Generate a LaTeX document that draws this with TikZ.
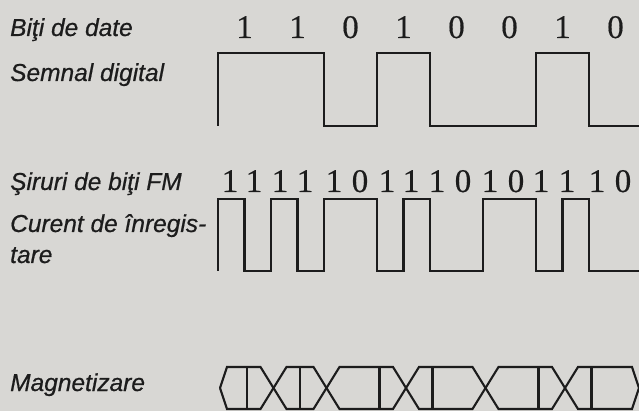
\documentclass[tikz,border=0pt]{standalone}
\usepackage{fontspec}
\setmainfont{Liberation Serif}
\setsansfont{Liberation Sans}
\newfontfamily\lblfont[ItalicFeatures={FakeBold=0.6}]{Liberation Sans}
\newfontfamily\digfont[FakeBold=0.4]{Liberation Serif}
\definecolor{paper}{RGB}{216,215,212}
\definecolor{ink}{RGB}{28,28,28}
\begin{document}
\begin{tikzpicture}[x=1pt,y=-1pt,
  wave/.style={line width=2.1pt, draw=ink, line join=miter},
  lbl/.style={anchor=base west, inner sep=0pt, font=\lblfont\itshape\fontsize{24.5}{28}\selectfont, text=ink},
  dig/.style={anchor=base, inner sep=0pt, font=\digfont\fontsize{33}{33}\selectfont, text=ink}]
\fill[paper] (0,0) rectangle (639,411);
\useasboundingbox (0,0) rectangle (639,411);
% labels
\node[lbl] (l1) at (10,36) {Biţi de date};
\node[lbl] (l2) at (10,81) {Semnal digital};
\node[lbl] (l3) at (10,190) {Şiruri de biţi FM};
\node[lbl] (l4) at (10,232) {Curent de înregis-};
\node[lbl] (l5) at (10,263) {tare};
\node[lbl] (l6) at (10,391) {Magnetizare};
% data bits
\foreach \b [count=\i from 0] in {1,1,0,1,0,0,1,0}
  \node[dig] (d\i) at (244.5+53*\i,38) {\b};
% FM bits
\foreach \b/\x [count=\i from 0] in {1/230,1/254,1/280,1/305,1/334,0/360,1/387,1/411,1/437,0/463,1/490,0/516,1/541,1/567,1/597,0/623}
  \node[dig] (f\i) at (\x,192) {\b};
% digital signal
\draw[wave] (218,126) -- (218,53) -- (324,53) -- (324,126) -- (377,126) -- (377,53)
  -- (430,53) -- (430,126) -- (536,126) -- (536,53) -- (589,53) -- (589,126) -- (639,126);
% FM recording current
\draw[wave] (218,271) -- (218,199) -- (244.5,199) -- (244.5,271) -- (271,271) -- (271,199)
  -- (297.5,199) -- (297.5,271) -- (324,271) -- (324,199) -- (377,199) -- (377,271)
  -- (403.5,271) -- (403.5,199) -- (430,199) -- (430,271) -- (483,271) -- (483,199)
  -- (536,199) -- (536,271) -- (562.5,271) -- (562.5,199) -- (589,199) -- (589,271) -- (639,271);
% magnetization
\draw[wave] (220,388) -- (227,367) -- (260.5,367) -- (286.5,409) -- (313.5,409) -- (339.5,367)
  -- (393,367) -- (419,409) -- (472.5,409) -- (498.5,367) -- (552,367) -- (578,409)
  -- (632,409) -- (639,388);
\draw[wave] (220,388) -- (227,409) -- (260.5,409) -- (286.5,367) -- (313.5,367) -- (339.5,409)
  -- (393,409) -- (419,367) -- (472.5,367) -- (498.5,409) -- (552,409) -- (578,367)
  -- (632,367) -- (639,388);
\foreach \x in {247,300,379.5,432.5,538.5,591.5}
  \draw[wave] (\x,367) -- (\x,409);
\end{tikzpicture}
\end{document}
